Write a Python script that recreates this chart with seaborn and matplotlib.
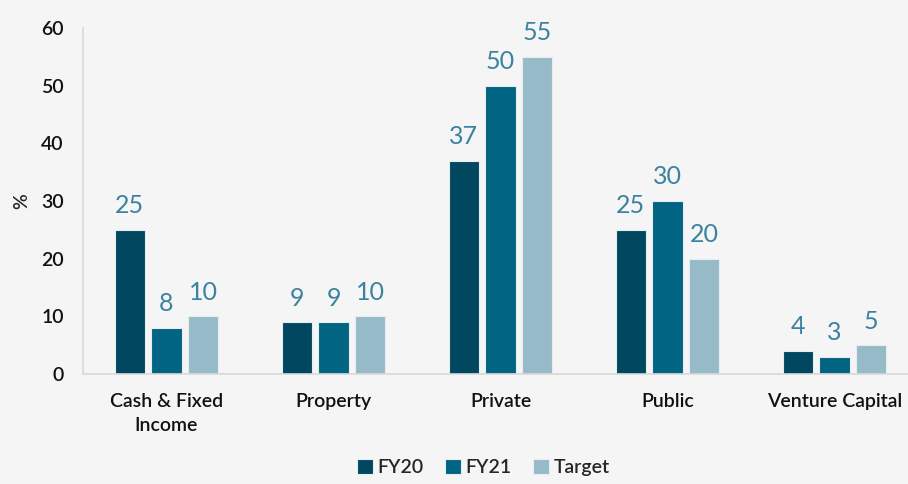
import pandas as pd
import numpy as np
import matplotlib.pyplot as plt
import seaborn as sns

categories = ["Cash & Fixed\nIncome", "Property", "Private", "Public", "Venture Capital"]
series = ["FY20", "FY21", "Target"]
fy20 = [25, 9, 37, 25, 4]
fy21 = [8, 9, 50, 30, 3]
target = [10, 10, 55, 20, 5]

colors = ["#00475f", "#006482", "#97bac9"]
bg = "#f5f5f5"

df = pd.DataFrame({
    "category": categories * 3,
    "series": [s for s in series for _ in categories],
    "value": fy20 + fy21 + target,
})

sns.set_style("white")
plt.rcParams["font.family"] = ["Lato", "DejaVu Sans"]

fig = plt.figure(figsize=(9.08, 4.84), dpi=100, facecolor=bg)
ax = fig.add_axes([83 / 908, 1 - 374 / 484, 835 / 908, 346 / 484])
ax.set_facecolor(bg)

sns.barplot(data=df, x="category", y="value", hue="series", palette=colors,
            saturation=1, width=0.66, gap=0.18, edgecolor="#e6edf0",
            linewidth=0.8, ax=ax)

for cont in ax.containers:
    ax.bar_label(cont, fmt="%g", padding=9, fontsize=18, color="#3a82a0",
                 fontweight="normal")

ax.set_ylim(0, 60)
ax.set_yticks(range(0, 61, 10))
ax.set_xlim(-0.5, 4.5)
ax.set_xlabel("")
ax.set_ylabel("%", fontsize=14, labelpad=8, fontweight="semibold")
ax.tick_params(axis="both", length=0, labelsize=14, colors="#111111")
ax.tick_params(axis="x", pad=14)
ax.tick_params(axis="y", pad=14)
for lbl in ax.get_xticklabels() + ax.get_yticklabels():
    lbl.set_fontweight("semibold")
    lbl.set_linespacing(1.45)
for s in ["top", "right"]:
    ax.spines[s].set_visible(False)
for s in ["left", "bottom"]:
    ax.spines[s].set_color("#d9d9d9")
    ax.spines[s].set_linewidth(1.2)

handles, labels = ax.get_legend_handles_labels()
ax.legend(handles, labels, loc="lower center", bbox_to_anchor=(0.5 - 17 / 835, -0.335),
          ncol=3, frameon=False, handlelength=0.8, handleheight=0.8,
          handletextpad=0.25, columnspacing=1.1, borderaxespad=0.3,
          prop={"size": 14, "weight": "semibold"})

fig.savefig("out.png", dpi=100, facecolor=bg)
